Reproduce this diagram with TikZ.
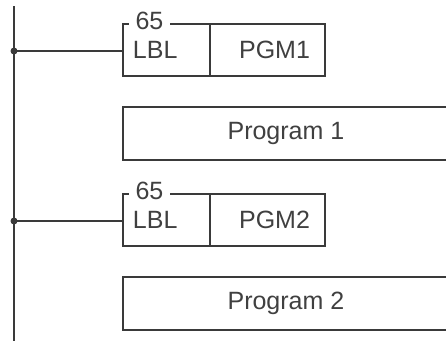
\documentclass[tikz,border=0pt]{standalone}
\usepackage{fontspec}
\setmainfont{Liberation Sans}
\definecolor{linec}{HTML}{3A3A3A}
\definecolor{textc}{HTML}{404040}
\begin{document}
\begin{tikzpicture}[x=1pt,y=-1pt,
  wire/.style={draw=linec, line width=1.9pt},
  lblcell/.style={wire, minimum height=52pt, inner xsep=10pt, inner ysep=0pt, text width=67pt, align=left,
    font=\fontsize{25}{30}\selectfont, text=textc, anchor=north west},
  pgmcell/.style={wire, minimum height=52pt, inner xsep=15pt, inner ysep=0pt, text width=85pt, align=right,
    font=\fontsize{25}{30}\selectfont, text=textc, anchor=north west},
  progbox/.style={wire, minimum height=53pt, minimum width=326pt, inner sep=0pt,
    font=\fontsize{25}{30}\selectfont, text=textc, anchor=north west},
  numtag/.style={fill=white, inner xsep=7pt, inner ysep=0pt, font=\fontsize{25}{30}\selectfont, text=textc},
  junction/.style={circle, fill=linec, inner sep=0pt, minimum size=7pt},
]
\useasboundingbox (0,0) rectangle (446,340);
\clip (0,0) rectangle (446,340);

% power rail
\coordinate (railtop) at (14,6);
\coordinate (railbot) at (14,342);
\draw[wire] (railtop) -- (railbot);

% block 1
\node[lblcell] (lbl1) at (122,23) {LBL};
\node[pgmcell] (pgm1) at (209,23) {PGM1};
\node[numtag] (n1) at (149.5,20.5) {65};
\node[junction] (j1) at (14,51) {};
\draw[wire] (j1.center) -- (j1 -| lbl1.west);
\node[progbox] (prog1) at (122,106) {Program 1};

% block 2
\node[lblcell] (lbl2) at (122,193) {LBL};
\node[pgmcell] (pgm2) at (209,193) {PGM2};
\node[numtag] (n2) at (149.5,190.5) {65};
\node[junction] (j2) at (14,221) {};
\draw[wire] (j2.center) -- (j2 -| lbl2.west);
\node[progbox] (prog2) at (122,276) {Program 2};
\end{tikzpicture}
\end{document}
